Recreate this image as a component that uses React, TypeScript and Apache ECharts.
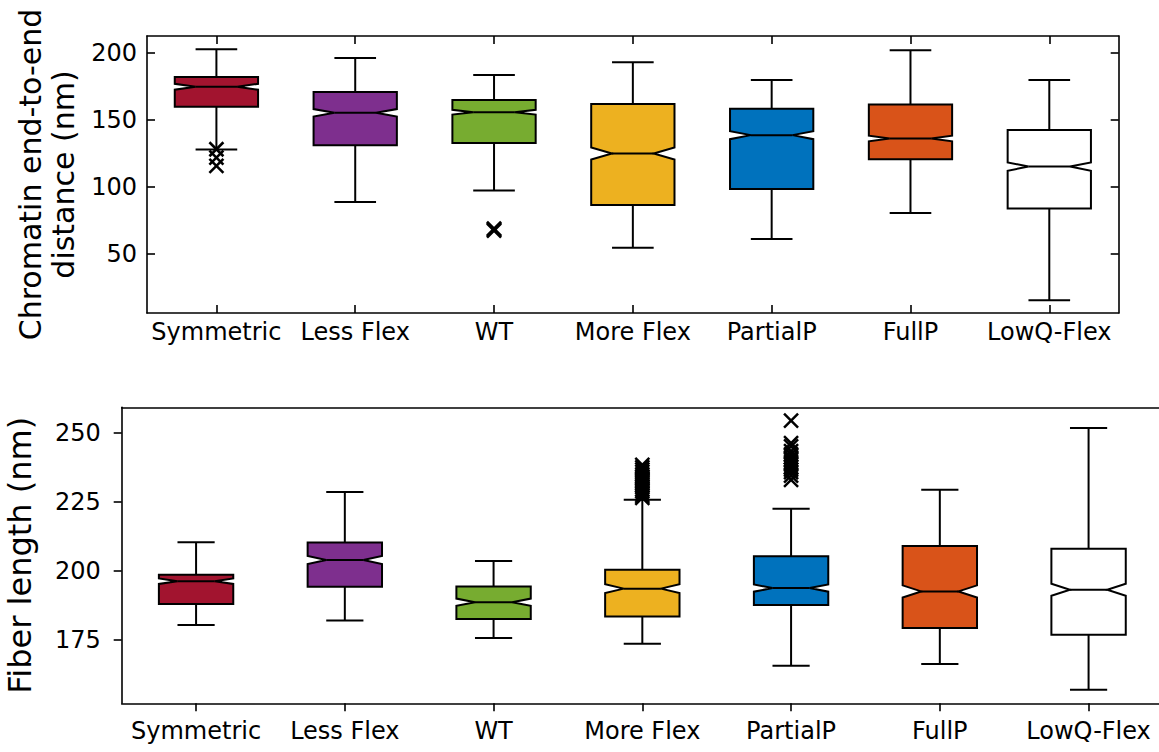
import React, { useEffect, useRef } from "react";
import * as echarts from "echarts";

// Model variants, in plotting order
const categories = ["Symmetric", "Less Flex", "WT", "More Flex", "PartialP", "FullP", "LowQ-Flex"];
const positions = [1, 2, 3, 4, 5, 6, 7];
const boxColors = ["#A2142F", "#7E2F8E", "#77AC30", "#EDB120", "#0072BD", "#D95319", "#FFFFFF"];

// Chromatin end-to-end distance (nm): whiskers, quartiles, median, notch half-height
const distLow = [127.9, 88.8, 97.3, 54.7, 61.2, 80.6, 15.7];
const distQ1 = [159.7, 131.1, 132.8, 86.6, 98.5, 120.7, 83.9];
const distMedian = [174.6, 155.2, 155.7, 124.9, 138.6, 136.1, 115.2];
const distQ3 = [181.9, 170.7, 164.7, 161.7, 158.2, 161.5, 142.5];
const distHigh = [202.5, 196.0, 183.4, 192.8, 179.6, 201.8, 179.6];
const distNotch = [2.2, 2.8, 1.8, 4.5, 3.0, 2.1, 3.1];
const distOutliers: [number, number][] = [
  [1, 128.1], [1, 121.9], [1, 115.7],
  [3, 67.6], [3, 68.3], [3, 69.0],
];
const distTicks = [50, 100, 150, 200];

// Fiber length (nm)
const fiberLow = [180.4, 182.0, 175.7, 173.6, 165.6, 166.3, 156.9];
const fiberQ1 = [188.0, 194.3, 182.6, 183.5, 187.7, 179.3, 176.9];
const fiberMedian = [196.3, 204.0, 188.7, 193.6, 193.8, 192.6, 193.2];
const fiberQ3 = [198.6, 210.3, 194.4, 200.5, 205.4, 209.1, 208.1];
const fiberHigh = [210.4, 228.7, 203.6, 225.9, 222.6, 229.5, 251.9];
const fiberNotch = [1.0, 1.5, 1.3, 1.6, 1.3, 2.2, 2.2];
const fiberOutliers: [number, number][] = [
  [4, 226.5], [4, 227.3], [4, 228.1], [4, 229.0], [4, 229.6], [4, 230.4], [4, 231.2], [4, 232.0],
  [4, 232.8], [4, 233.5], [4, 234.3], [4, 235.1], [4, 236.0], [4, 236.8], [4, 237.6], [4, 238.5],
  [5, 254.6], [5, 246.4], [5, 245.2], [5, 243.5], [5, 242.3], [5, 241.2], [5, 240.3], [5, 239.5],
  [5, 238.6], [5, 237.7], [5, 236.8], [5, 235.9], [5, 234.6], [5, 233.1],
];
const fiberTicks = [175, 200, 225, 250];

const FONT = "DejaVu Sans";
const INK = "#000000";

function boxData(low: number[], q1: number[], med: number[], q3: number[], high: number[], notch: number[]) {
  return positions.map((p, i) => ({
    value: [p, low[i], q1[i], med[i], q3[i], high[i], notch[i]],
    itemStyle: { color: boxColors[i] },
  }));
}

// Notched box with whiskers and caps, drawn through the axis scales
function notchedBox(boxWidth: number) {
  return (_params: any, api: any) => {
    const x = api.value(0);
    const low = api.value(1);
    const q1 = api.value(2);
    const med = api.value(3);
    const q3 = api.value(4);
    const high = api.value(5);
    const notch = api.value(6);
    const cx = api.coord([x, med])[0];
    const half = api.size([boxWidth, 0])[0] / 2;
    const capHalf = half / 2;
    const y = (v: number) => api.coord([x, v])[1];
    const L = cx - half;
    const R = cx + half;
    const nl = cx - half / 2;
    const nr = cx + half / 2;
    const stroke = { stroke: INK, lineWidth: 2 };
    return {
      type: "group",
      children: [
        { type: "line", shape: { x1: cx, y1: y(q1), x2: cx, y2: y(low) }, style: stroke },
        { type: "line", shape: { x1: cx, y1: y(q3), x2: cx, y2: y(high) }, style: stroke },
        { type: "line", shape: { x1: cx - capHalf, y1: y(low), x2: cx + capHalf, y2: y(low) }, style: stroke },
        { type: "line", shape: { x1: cx - capHalf, y1: y(high), x2: cx + capHalf, y2: y(high) }, style: stroke },
        {
          type: "polygon",
          shape: {
            points: [
              [L, y(q1)], [R, y(q1)], [R, y(med - notch)], [nr, y(med)], [R, y(med + notch)],
              [R, y(q3)], [L, y(q3)], [L, y(med + notch)], [nl, y(med)], [L, y(med - notch)],
            ],
          },
          style: { fill: api.visual("color"), stroke: INK, lineWidth: 2, lineJoin: "miter" },
        },
        { type: "line", shape: { x1: nl, y1: y(med), x2: nr, y2: y(med) }, style: stroke },
      ],
    };
  };
}

// "x" markers for outliers
function crossMarker(_params: any, api: any) {
  const [px, py] = api.coord([api.value(0), api.value(1)]);
  const s = 7;
  const st = { stroke: INK, lineWidth: 2.5 };
  return {
    type: "group",
    children: [
      { type: "line", shape: { x1: px - s, y1: py - s, x2: px + s, y2: py + s }, style: st },
      { type: "line", shape: { x1: px - s, y1: py + s, x2: px + s, y2: py - s }, style: st },
    ],
  };
}

const lineStyle = { color: INK, width: 1.6 };
const labelStyle = { color: INK, fontFamily: FONT, fontSize: 24 };

export default function App() {
  const ref = useRef<HTMLDivElement>(null);

  useEffect(() => {
    if (!ref.current) return;
    const chart = echarts.init(ref.current, undefined, { renderer: "svg" });
    const categoryLabel = (v: number) => categories[Math.round(v) - 1] ?? "";

    chart.setOption({
      animation: false,
      backgroundColor: "#ffffff",
      grid: [
        { left: 147, top: 36, width: 971.7, height: 277, outerBoundsMode: "none" },
        { left: 121.7, top: 407.3, width: 1041.25, height: 296, outerBoundsMode: "none" },
      ],
      xAxis: [
        {
          gridIndex: 0, type: "value", min: 0.5, max: 7.5, position: "bottom",
          axisLine: { show: true, onZero: false, lineStyle },
          axisTick: { show: true, inside: true, length: 8, customValues: positions, lineStyle },
          axisLabel: { ...labelStyle, customValues: positions, formatter: categoryLabel, margin: 7 },
          splitLine: { show: false },
        },
        {
          gridIndex: 0, type: "value", min: 0.5, max: 7.5, position: "top",
          axisLine: { show: true, onZero: false, lineStyle },
          axisTick: { show: true, inside: true, length: 8, customValues: positions, lineStyle },
          axisLabel: { show: false },
          splitLine: { show: false },
        },
        {
          gridIndex: 1, type: "value", min: 0.5, max: 7.5, position: "bottom",
          axisLine: { show: true, onZero: false, lineStyle },
          axisTick: { show: true, inside: false, length: 8, customValues: positions, lineStyle },
          axisLabel: { ...labelStyle, customValues: positions, formatter: categoryLabel, margin: 16 },
          splitLine: { show: false },
        },
        {
          gridIndex: 1, type: "value", min: 0.5, max: 7.5, position: "top",
          axisLine: { show: true, onZero: false, lineStyle },
          axisTick: { show: false },
          axisLabel: { show: false },
          splitLine: { show: false },
        },
      ],
      yAxis: [
        {
          gridIndex: 0, type: "value", min: 6.2, max: 212.4, position: "left",
          axisLine: { show: true, onZero: false, lineStyle },
          axisTick: { show: true, inside: true, length: 8, customValues: distTicks, lineStyle },
          axisLabel: { ...labelStyle, customValues: distTicks, margin: 10 },
          splitLine: { show: false },
          name: "Chromatin end-to-end\ndistance (nm)",
          nameLocation: "middle",
          nameRotate: 90,
          nameGap: 67,
          nameTextStyle: { color: INK, fontFamily: FONT, fontSize: 30, lineHeight: 33 },
        },
        {
          gridIndex: 0, type: "value", min: 6.2, max: 212.4, position: "right",
          axisLine: { show: true, onZero: false, lineStyle },
          axisTick: { show: true, inside: true, length: 8, customValues: distTicks, lineStyle },
          axisLabel: { show: false },
          splitLine: { show: false },
        },
        {
          gridIndex: 1, type: "value", min: 152, max: 259.4, position: "left",
          axisLine: { show: true, onZero: false, lineStyle },
          axisTick: { show: true, inside: false, length: 8, customValues: fiberTicks, lineStyle },
          axisLabel: { ...labelStyle, customValues: fiberTicks, margin: 21 },
          splitLine: { show: false },
          name: "Fiber length (nm)",
          nameLocation: "middle",
          nameRotate: 90,
          nameGap: 86,
          nameTextStyle: { color: INK, fontFamily: FONT, fontSize: 32 },
        },
      ],
      series: [
        {
          type: "custom", name: "distance", xAxisIndex: 0, yAxisIndex: 0,
          renderItem: notchedBox(0.6),
          data: boxData(distLow, distQ1, distMedian, distQ3, distHigh, distNotch),
          encode: { x: 0, y: [1, 5] },
          z: 3,
        },
        {
          type: "custom", name: "distance outliers", xAxisIndex: 0, yAxisIndex: 0,
          renderItem: crossMarker, data: distOutliers, encode: { x: 0, y: 1 }, z: 4,
        },
        {
          type: "custom", name: "fiber", xAxisIndex: 2, yAxisIndex: 2,
          renderItem: notchedBox(0.5),
          data: boxData(fiberLow, fiberQ1, fiberMedian, fiberQ3, fiberHigh, fiberNotch),
          encode: { x: 0, y: [1, 5] },
          z: 3,
        },
        {
          type: "custom", name: "fiber outliers", xAxisIndex: 2, yAxisIndex: 2,
          renderItem: crossMarker, data: fiberOutliers, encode: { x: 0, y: 1 }, z: 4,
        },
      ],
    });
    return () => chart.dispose();
  }, []);

  return (
    <div
      ref={ref}
      style={{ position: "fixed", left: 0, top: 0, width: 1159, height: 752, background: "#fff" }}
    />
  );
}
